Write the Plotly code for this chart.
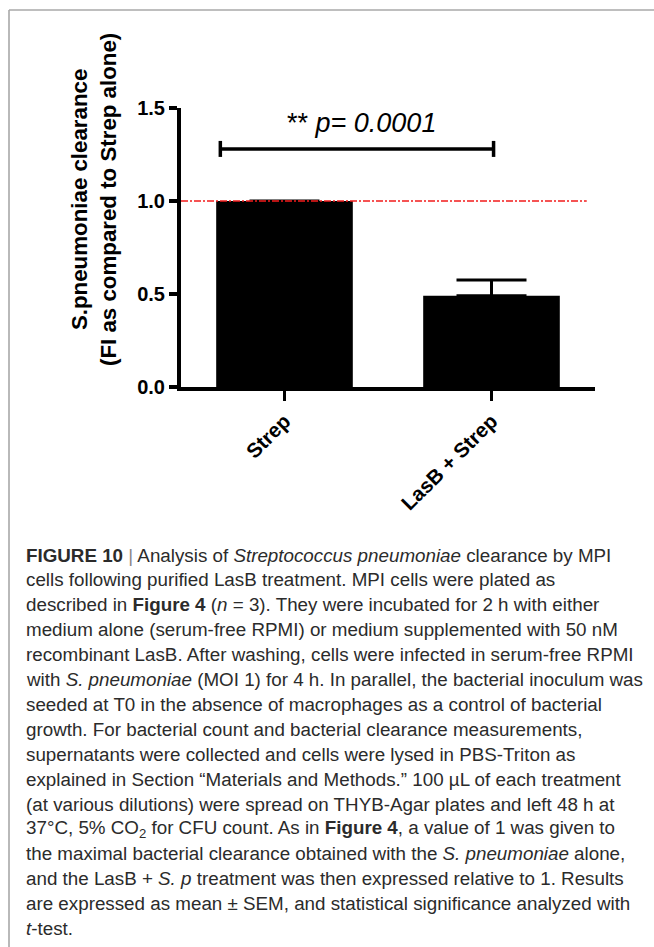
import plotly.graph_objects as go

# ---------------- data ----------------
categories = ["Strep", "LasB + Strep"]
means = [1.0, 0.49]
sem_upper = [None, 0.085]
reference_level = 1.0
reference_x = [-0.5, 1.46]
bracket_x = [-0.31, 1.01]
bracket_y = 1.28
bracket_cap = 0.043
p_label_x = 0.37
p_label_y = 1.42
p_label = "** <i>p= 0.0001</i>"
y_ticks = [0.0, 0.5, 1.0, 1.5]
y_ticktext = ["0.0", "0.5", "1.0", "1.5"]

y_title_lines = ["S.pneumoniae clearance", "(FI as compared to Strep alone)"]

caption_lines = [
    "<b>FIGURE 10</b> <span style='color:#888'>|</span> Analysis of <i>Streptococcus pneumoniae</i> clearance by MPI",
    "cells following purified LasB treatment. MPI cells were plated as",
    "described in <b>Figure 4</b> (<i>n</i> = 3). They were incubated for 2 h with either",
    "medium alone (serum-free RPMI) or medium supplemented with 50 nM",
    "recombinant LasB. After washing, cells were infected in serum-free RPMI",
    "with <i>S. pneumoniae</i> (MOI 1) for 4 h. In parallel, the bacterial inoculum was",
    "seeded at T0 in the absence of macrophages as a control of bacterial",
    "growth. For bacterial count and bacterial clearance measurements,",
    "supernatants were collected and cells were lysed in PBS-Triton as",
    "explained in Section “Materials and Methods.” 100 µL of each treatment",
    "(at various dilutions) were spread on THYB-Agar plates and left 48 h at",
    "37°C, 5% CO<sub>2</sub> for CFU count. As in <b>Figure 4</b>, a value of 1 was given to",
    "the maximal bacterial clearance obtained with the <i>S. pneumoniae</i> alone,",
    "and the LasB + <i>S. p</i> treatment was then expressed relative to 1. Results",
    "are expressed as mean ± SEM, and statistical significance analyzed with",
    "<i>t</i>-test.",
]

# ---------------- layout geometry ----------------
W, H = 654, 947
ML, MR, MT, MB = 181, 59, 108, 560
PW = W - ML - MR
PH = H - MT - MB


def px_x(px):
    return (px - ML) / PW


def px_y(py):
    return (H - MB - py) / PH


FONT = "Liberation Sans, Arial, Helvetica, sans-serif"
CAPFONT = "Liberation Sans, Arial, sans-serif"

fig = go.Figure()

fig.add_trace(go.Bar(
    x=categories, y=means, width=0.66,
    marker=dict(color="black", line=dict(width=0)),
    error_y=dict(type="data", symmetric=False, array=sem_upper,
                 arrayminus=[0, 0], color="black", thickness=3, width=35),
    showlegend=False, hoverinfo="skip",
))

# reference line at 1.0
fig.add_trace(go.Scatter(
    x=reference_x, y=[reference_level, reference_level],
    mode="lines", line=dict(color="#f21b1b", width=1.6, dash="7px,2px,2px,2px"),
    showlegend=False, hoverinfo="skip", xaxis="x2",
))

# significance bracket
fig.add_trace(go.Scatter(
    x=bracket_x, y=[bracket_y, bracket_y], mode="lines",
    line=dict(color="black", width=3.5),
    error_y=dict(type="constant", value=bracket_cap, color="black", thickness=3.5, width=0),
    showlegend=False, hoverinfo="skip", xaxis="x2",
))

annotations = [
    dict(x=p_label_x, y=p_label_y, xref="x2", yref="y", text=p_label,
         showarrow=False, font=dict(family=FONT, size=27, color="black"),
         xanchor="center", yanchor="middle"),
    dict(x=px_x(94), y=px_y(200), xref="paper", yref="paper",
         text="<br>".join(y_title_lines), textangle=-90, showarrow=False,
         font=dict(family=FONT, size=22.3, color="black", weight="bold"),
         xanchor="center", yanchor="middle"),
]

for i, line in enumerate(caption_lines):
    annotations.append(dict(
        x=px_x(24), y=px_y(555 + 24.9 * i), xref="paper", yref="paper",
        text=line, showarrow=False, xanchor="left", yanchor="middle",
        font=dict(family=CAPFONT, size=18.8, color="#2b2b2b"),
    ))

shapes = [
    dict(type="line", xref="paper", yref="paper",
         x0=px_x(9), x1=px_x(W + 5), y0=px_y(10), y1=px_y(10),
         line=dict(color="#a8a8a8", width=1.6)),
    dict(type="line", xref="paper", yref="paper",
         x0=px_x(9), x1=px_x(9), y0=px_y(10), y1=px_y(H + 5),
         line=dict(color="#a8a8a8", width=1.6)),
]

fig.update_layout(
    width=W, height=H,
    margin=dict(l=ML, r=MR, t=MT, b=MB, pad=0),
    paper_bgcolor="white", plot_bgcolor="white",
    font=dict(family=FONT, color="black"),
    hovermode=False,
    xaxis=dict(
        type="category", range=[-0.5, 1.5], showgrid=False, zeroline=False,
        showline=True, linecolor="black", linewidth=4,
        ticks="outside", ticklen=10, tickwidth=3.5, tickcolor="black",
        tickangle=-45, tickfont=dict(family=FONT, size=20.5, color="black", weight="bold"),
    ),
    xaxis2=dict(overlaying="x", range=[-0.5, 1.5], visible=False),
    yaxis=dict(
        range=[0, 1.5], showgrid=False, zeroline=False,
        showline=True, linecolor="black", linewidth=4,
        ticks="outside", ticklen=8, tickwidth=3.5, tickcolor="black",
        tickvals=y_ticks, ticktext=y_ticktext,
        tickfont=dict(family=FONT, size=20, color="black", weight="bold"),
    ),
    annotations=annotations,
    shapes=shapes,
)

fig.write_html(
    "out.html",
    config={"displayModeBar": False, "staticPlot": True},
    post_script="document.body.style.margin='0px';document.body.style.overflow='hidden';",
)
